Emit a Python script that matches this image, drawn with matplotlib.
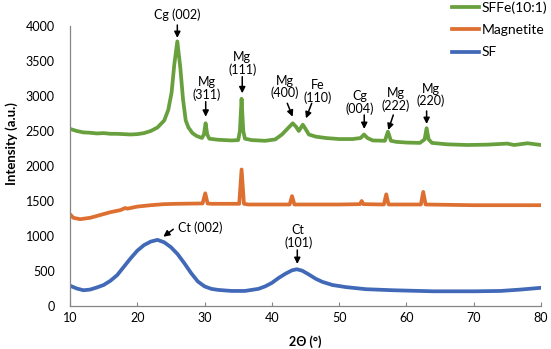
import matplotlib
matplotlib.use("Agg")
import matplotlib.pyplot as plt

# ---------------- data ----------------
sf_x = [10, 11, 12, 13, 14, 15, 16, 17, 18, 19, 20, 21, 22, 23, 24, 25, 26, 27, 28, 29,
        30, 31, 32, 34, 36, 38, 39, 40, 41, 42, 43, 43.7, 44.5, 45.5, 46.5, 47.5, 49, 51,
        54, 58, 64, 70, 74, 77, 80]
sf_y = [290, 250, 225, 235, 265, 300, 360, 440, 560, 680, 790, 870, 920, 945, 910, 840,
        740, 610, 470, 350, 280, 245, 230, 215, 215, 245, 280, 330, 400, 460, 510, 525,
        505, 450, 390, 345, 300, 270, 240, 225, 210, 210, 215, 235, 260]

mag_x = [10, 10.5, 11.5, 13, 14.5, 16, 17.5, 18.2, 18.5, 20, 22, 24, 26, 29.7, 30.1, 30.45,
         31, 35.15, 35.5, 35.85, 36.5, 42.65, 43.0, 43.35, 50, 53.1, 53.35, 53.6, 56.65,
         57.0, 57.35, 62.15, 62.5, 62.85, 70, 80]
mag_y = [1310, 1260, 1240, 1260, 1300, 1340, 1370, 1400, 1390, 1420, 1440, 1455, 1460,
         1465, 1610, 1465, 1460, 1460, 1950, 1460, 1450, 1450, 1570, 1450, 1450, 1455,
         1500, 1455, 1450, 1595, 1450, 1450, 1630, 1450, 1440, 1440]

sffe_x = [10, 11, 12, 13, 14, 15, 16, 17, 18, 19, 20, 21, 22, 23, 24, 24.6, 25.1, 25.5,
          25.95, 26.4, 26.8, 27.2, 27.6, 28.2, 28.8, 29.6, 29.9, 30.15, 30.4, 30.7, 32, 33,
          34, 35.0, 35.25, 35.5, 35.75, 36.0, 37, 39, 40.5, 41.5, 42.3, 43.1, 43.6, 44.0,
          44.6, 45.0, 45.5, 46.5, 48, 50, 52, 53.2, 53.7, 54.2, 55, 56.8, 57.25, 57.7, 58.5,
          60, 62, 62.7, 63.0, 63.3, 63.8, 66, 69, 72, 75, 76, 78, 80]
sffe_y = [2530, 2500, 2480, 2475, 2465, 2470, 2460, 2460, 2455, 2450, 2455, 2470, 2500,
          2550, 2650, 2800, 3050, 3450, 3780, 3400, 2950, 2650, 2550, 2470, 2430, 2400,
          2450, 2610, 2450, 2390, 2375, 2370, 2365, 2370, 2500, 2960, 2500, 2390, 2370,
          2360, 2380, 2450, 2530, 2610, 2560, 2500, 2590, 2530, 2450, 2420, 2400, 2385,
          2385, 2400, 2450, 2400, 2365, 2360, 2490, 2360, 2345, 2335, 2330, 2380, 2540,
          2380, 2330, 2310, 2300, 2305, 2320, 2300, 2325, 2300]

series_names = ["SFFe(10:1)", "Magnetite", "SF"]
x_ticks = [10, 20, 30, 40, 50, 60, 70, 80]
y_ticks = [0, 500, 1000, 1500, 2000, 2500, 3000, 3500, 4000]

# annotation labels: (text, text_x, text_y, arrow_start, arrow_tip)
peak_labels = [
    ("Cg (002)", 25.9, 4157, (25.95, 4014), (25.95, 3829)),
    ("Mg\n(311)", 30.3, 3107, (30.17, 2919), (30.17, 2704)),
    ("Mg\n(111)", 35.6, 3464, (35.6, 3276), (35.6, 3039)),
    ("Mg\n(400)", 41.95, 3129, (42.29, 2896), (43.09, 2704)),
    ("Fe\n(110)", 46.75, 3064, (45.92, 2896), (45.07, 2681)),
    ("Cg\n(004)", 53.1, 2907, (53.73, 2729), (53.73, 2529)),
    ("Mg\n(222)", 58.45, 2950, (58.05, 2729), (57.3, 2514)),
    ("Mg\n(220)", 63.6, 3014, (63.0, 2786), (63.0, 2600)),
    ("Ct\n(101)", 43.93, 993, (43.78, 800), (43.78, 600)),
]
ct002 = ("Ct (002)", 26.1, 1114, (25.35, 1096), (23.87, 990))

# ---------------- figure ----------------
FONT = "Lato"
plt.rcParams["font.family"] = [FONT, "DejaVu Sans"]

W, H = 551, 349
fig = plt.figure(figsize=(W / 100, H / 100), dpi=100)
ax = fig.add_axes([70 / W, (H - 306) / H, 471 / W, 280 / H])

c_green = "#68A03E"
c_orange = "#DD7030"
c_blue = "#4169B8"
lw = 2.7

l_sf, = ax.plot(sf_x, sf_y, color=c_blue, lw=lw, solid_joinstyle="round")
l_mag, = ax.plot(mag_x, mag_y, color=c_orange, lw=lw, solid_joinstyle="round")
l_sffe, = ax.plot(sffe_x, sffe_y, color=c_green, lw=lw, solid_joinstyle="round")

ax.set_xlim(10, 80)
ax.set_ylim(0, 4000)
ax.set_xticks(x_ticks)
ax.set_yticks(y_ticks)
ax.tick_params(axis="x", direction="in", length=3, width=0.8, color="#868686",
               labelsize=9, pad=4)
ax.tick_params(axis="y", length=0, labelsize=9, pad=11)

for s in ["top", "right"]:
    ax.spines[s].set_visible(False)
for s in ["left", "bottom"]:
    ax.spines[s].set_color("#868686")
    ax.spines[s].set_linewidth(0.9)

ax.set_xlabel("2Θ (°)", fontsize=9, fontweight="bold", va="center")
ax.set_ylabel("Intensity (a.u.)", fontsize=9.5, fontweight="bold", va="center")
ax.xaxis.set_label_coords(0.4996, -0.1275)
ax.yaxis.set_label_coords((12 - 70) / 471, (306 - 144) / 280)

arrow_kw = dict(arrowstyle="-|>", color="black", lw=1.1, mutation_scale=9,
                shrinkA=0, shrinkB=0)
for txt, tx, ty, start, tip in peak_labels:
    ax.text(tx, ty, txt, ha="center", va="center", fontsize=9,
            linespacing=1.0, clip_on=False)
    ax.annotate("", xy=tip, xytext=start, arrowprops=arrow_kw, annotation_clip=False)

txt, tx, ty, start, tip = ct002
ax.text(tx, ty, txt, ha="left", va="center", fontsize=9, clip_on=False)
ax.annotate("", xy=tip, xytext=start, arrowprops=arrow_kw, annotation_clip=False)

leg = ax.legend([l_sffe, l_mag, l_sf], series_names, loc="upper left",
                bbox_to_anchor=(451.7 / W, 1 - 1.0 / H), bbox_transform=fig.transFigure,
                frameon=False, borderaxespad=0, borderpad=0, handlelength=2.0,
                handletextpad=0.15, labelspacing=0.75, fontsize=10)

fig.savefig("out.png", dpi=100)
